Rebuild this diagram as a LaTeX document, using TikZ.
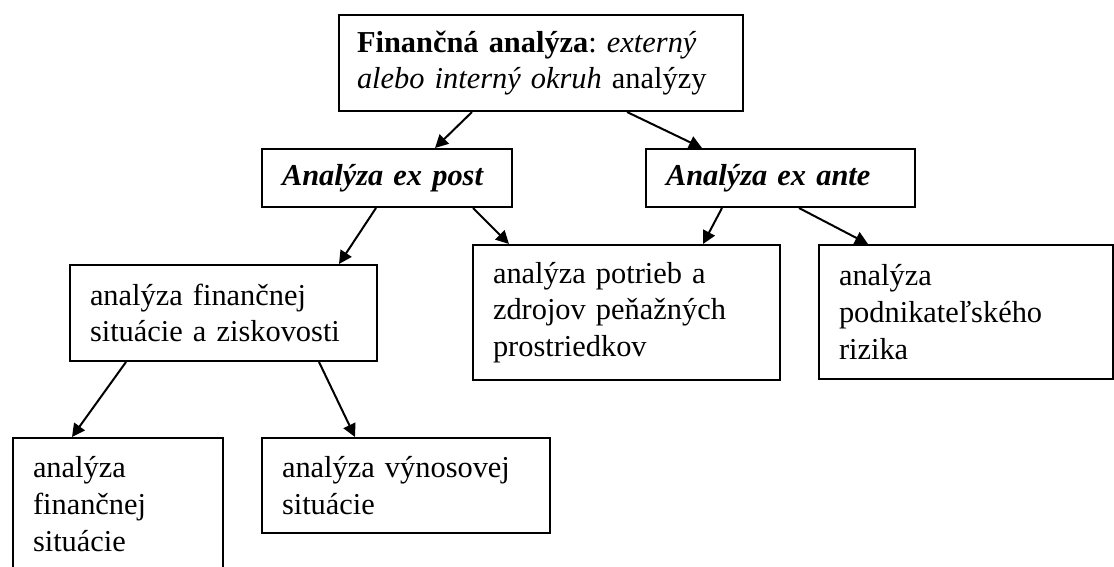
\documentclass[tikz,border=0pt]{standalone}
\usepackage{fontspec}
\setmainfont{Liberation Serif}
\frenchspacing
\usetikzlibrary{positioning,calc,arrows.meta}
\tikzset{
  box/.style={draw,line width=1pt,anchor=north west,align=left,
    inner xsep=10pt,inner ysep=0pt,font=\fontsize{15.2}{18.4}\selectfont},
  arr/.style={line width=1pt,-{Triangle[length=6.5pt,width=6.5pt]}}
}
\begin{document}
\begin{tikzpicture}[x=0.5pt,y=-0.5pt]
  \useasboundingbox (0,0) rectangle (1114,567);

  % Boxes
  \node[box,inner xsep=9pt,text width=184pt,minimum height=48pt] (top) at (338,14)
    {\textbf{Finančná analýza}: \textit{externý}\\\textit{alebo interný okruh} analýzy};
  \node[box,text width=105pt,minimum height=29pt] (expost) at (261,148)
    {\textbf{\textit{Analýza ex post}}};
  \node[box,text width=114.5pt,minimum height=29pt] (exante) at (645,148)
    {\textbf{\textit{Analýza ex ante}}};
  \node[box,text width=133.5pt,minimum height=48pt] (fin) at (69,264)
    {analýza finančnej\\situácie a ziskovosti};
  \node[box,text width=133.5pt,minimum height=67.5pt] (potrieb) at (472,244)
    {analýza potrieb a\\zdrojov peňažných\\prostriedkov};
  \node[box,text width=127pt,minimum height=67pt] (riziko) at (818,244)
    {analýza\\podnikateľského\\rizika};
  \node[box,text width=85pt,minimum height=66pt] (finsit) at (12,437)
    {analýza\\finančnej\\situácie};
  \node[box,text width=124pt,minimum height=47.5pt] (vynos) at (261,437)
    {analýza výnosovej\\situácie};

  % Arrows
  \draw[arr] ($(top.south west)+(134,0)$) -- ($(expost.north west)+(174,0)$);
  \draw[arr] ($(top.south west)+(289,0)$) -- ($(exante.north west)+(57,0)$);
  \draw[arr] ($(expost.south west)+(115,0)$) -- ($(fin.north west)+(270,0)$);
  \draw[arr] ($(expost.south west)+(212,0)$) -- ($(potrieb.north west)+(37,0)$);
  \draw[arr] ($(exante.south west)+(77,0)$) -- ($(potrieb.north west)+(231,0)$);
  \draw[arr] ($(exante.south west)+(154,0)$) -- ($(riziko.north west)+(50,0)$);
  \draw[arr] ($(fin.south west)+(57,0)$) -- ($(finsit.north west)+(60,0)$);
  \draw[arr] ($(fin.south west)+(250,0)$) -- ($(vynos.north west)+(94,0)$);
\end{tikzpicture}
\end{document}
